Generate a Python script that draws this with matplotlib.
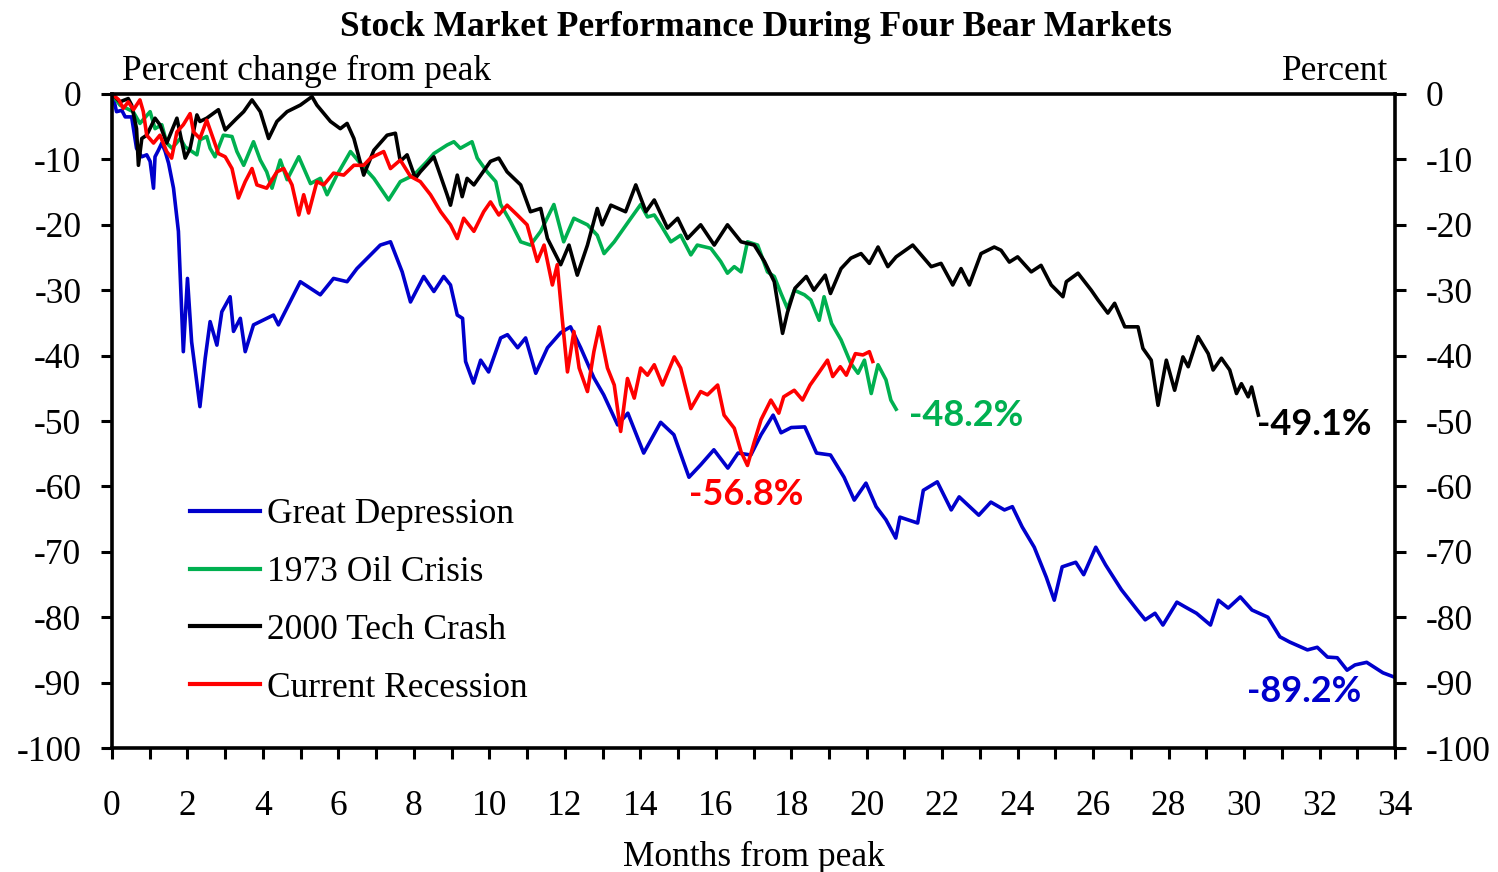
import matplotlib

matplotlib.use("Agg")
import matplotlib.pyplot as plt
from matplotlib.ticker import MultipleLocator

plt.rcParams["axes.unicode_minus"] = False

# Great Depression
gd_months = [0.0, 0.04, 0.12, 0.26, 0.35, 0.52, 0.65, 0.79, 0.92, 1.01, 1.1, 1.14, 1.23, 1.32,
             1.41, 1.5, 1.63, 1.76, 1.89, 2.0, 2.11, 2.33, 2.47, 2.6, 2.78, 2.91, 3.13, 3.22,
             3.4, 3.53, 3.75, 4.28, 4.41, 4.99, 5.52, 5.87, 6.23, 6.49, 7.11, 7.38, 7.69,
             7.91, 8.26, 8.53, 8.79, 8.97, 9.15, 9.29, 9.37, 9.58, 9.77, 9.98, 10.3, 10.48,
             10.75, 10.96, 11.23, 11.54, 11.89, 12.15, 12.42, 12.77, 13.03, 13.4, 13.67,
             14.09, 14.54, 14.89, 15.29, 15.6, 15.95, 16.32, 16.59, 16.93, 17.2, 17.52,
             17.73, 18.0, 18.36, 18.67, 19.04, 19.4, 19.67, 19.98, 20.25, 20.51, 20.77,
             20.88, 21.35, 21.5, 21.87, 22.24, 22.45, 22.97, 23.29, 23.65, 23.86, 24.12,
             24.44, 24.76, 24.97, 25.18, 25.54, 25.75, 26.07, 26.33, 26.75, 27.17, 27.38,
             27.64, 27.85, 28.22, 28.43, 28.74, 29.11, 29.32, 29.58, 29.9, 30.21, 30.63,
             30.95, 31.21, 31.68, 31.94, 32.21, 32.47, 32.73, 32.94, 33.25, 33.68, 34.0]
gd_pct = [0.0, -0.7, -2.7, -2.5, -3.5, -3.5, -8.3, -9.6, -9.3, -10.3, -14.4, -9.6, -8.6, -7.5,
          -8.8, -10.6, -14.4, -21.0, -39.4, -28.2, -37.9, -47.8, -40.4, -34.8, -38.4, -33.3,
          -31.0, -36.3, -34.3, -39.4, -35.3, -33.8, -35.3, -28.7, -30.7, -28.2, -28.7, -26.7,
          -23.1, -22.6, -27.2, -31.8, -27.9, -30.2, -27.9, -29.2, -33.8, -34.3, -40.9, -44.2,
          -40.7, -42.5, -37.3, -36.8, -38.8, -37.3, -42.7, -38.8, -36.5, -35.6, -38.8, -43.4,
          -46.0, -50.6, -48.8, -54.9, -50.2, -52.1, -58.6, -56.7, -54.4, -57.2, -54.9, -55.2,
          -52.1, -49.1, -51.8, -51.0, -50.9, -54.9, -55.2, -58.6, -62.1, -59.5, -63.1, -65.1,
          -67.9, -64.7, -65.6, -60.6, -59.3, -63.6, -61.6, -64.4, -62.4, -63.6, -63.1, -66.2,
          -69.3, -73.9, -77.4, -72.3, -71.6, -73.5, -69.3, -72.0, -75.8, -78.9, -80.4, -79.4,
          -81.2, -77.7, -78.4, -79.4, -81.2, -77.4, -78.6, -76.9, -78.9, -80.0, -83.0, -83.8,
          -85.0, -84.6, -86.1, -86.2, -88.1, -87.3, -86.9, -88.5, -89.2]

# 1973 Oil Crisis
oil_months = [0.0, 0.21, 0.56, 0.74, 1.01, 1.14, 1.32, 1.45, 1.59, 1.81, 1.94, 2.25, 2.33, 2.51,
              2.6, 2.73, 2.95, 3.18, 3.31, 3.49, 3.75, 3.93, 4.1, 4.24, 4.46, 4.64, 4.95, 5.26,
              5.52, 5.7, 5.96, 6.32, 6.58, 6.94, 7.33, 7.64, 8.0, 8.35, 8.53, 8.88, 9.06, 9.23,
              9.54, 9.68, 9.94, 10.17, 10.3, 10.56, 10.83, 11.09, 11.36, 11.71, 11.97, 12.24,
              12.6, 12.86, 13.04, 13.31, 13.75, 14.01, 14.19, 14.37, 14.54, 14.81, 15.07,
              15.34, 15.51, 15.87, 16.13, 16.31, 16.49, 16.67, 16.84, 17.11, 17.37, 17.55,
              17.73, 17.9, 18.08, 18.35, 18.52, 18.74, 18.87, 19.07, 19.32, 19.58, 19.77,
              19.94, 20.12, 20.3, 20.51, 20.64, 20.78]
oil_pct = [0.0, -1.7, -2.7, -4.5, -2.7, -5.3, -4.7, -7.5, -8.3, -6.8, -8.1, -9.3, -7.0, -6.5,
           -8.3, -9.6, -6.3, -6.5, -8.8, -10.9, -7.3, -10.1, -11.9, -14.4, -10.1, -13.1, -9.6,
           -13.7, -12.9, -15.4, -12.4, -8.8, -10.6, -12.9, -16.2, -13.4, -12.4, -10.3, -9.1,
           -7.8, -7.3, -8.3, -7.3, -9.8, -11.9, -13.4, -16.9, -19.5, -22.6, -23.1, -21.0,
           -16.9, -22.6, -19.0, -20.0, -21.6, -24.4, -22.6, -19.0, -16.9, -18.8, -18.5, -20.0,
           -22.6, -21.6, -24.6, -23.1, -23.6, -25.6, -27.4, -26.4, -27.2, -22.6, -23.1, -27.2,
           -27.9, -30.5, -32.8, -30.0, -30.7, -31.5, -34.6, -31.0, -35.1, -37.6, -41.2, -42.7,
           -40.7, -45.8, -41.4, -43.7, -46.8, -48.2]

# 2000 Tech Crash
tech_months = [0.0, 0.21, 0.43, 0.52, 0.65, 0.7, 0.79, 0.92, 1.14, 1.27, 1.45, 1.72, 1.94, 2.07,
               2.25, 2.33, 2.51, 2.82, 3.0, 3.31, 3.49, 3.71, 3.93, 4.15, 4.37, 4.64, 4.99,
               5.3, 5.43, 5.79, 6.05, 6.23, 6.41, 6.67, 6.94, 7.29, 7.51, 7.64, 7.82, 8.04,
               8.17, 8.53, 8.88, 8.97, 9.15, 9.28, 9.41, 9.59, 10.03, 10.25, 10.47, 10.83,
               11.09, 11.36, 11.54, 11.89, 12.11, 12.33, 12.6, 12.86, 12.99, 13.22, 13.61,
               13.88, 14.15, 14.37, 14.72, 14.99, 15.25, 15.6, 15.96, 16.31, 16.67, 17.02,
               17.29, 17.55, 17.77, 17.9, 18.1, 18.4, 18.6, 18.9, 19.04, 19.32, 19.58, 19.85,
               20.07, 20.3, 20.56, 20.78, 21.22, 21.71, 21.97, 22.28, 22.5, 22.72, 23.03,
               23.38, 23.56, 23.78, 24.0, 24.36, 24.62, 24.89, 25.2, 25.29, 25.6, 25.95,
               26.13, 26.39, 26.57, 26.84, 27.19, 27.32, 27.54, 27.72, 27.94, 28.16, 28.38,
               28.52, 28.78, 29.05, 29.18, 29.4, 29.62, 29.8, 29.93, 30.11, 30.2, 30.38]
tech_pct = [0.0, -1.2, -0.7, -1.7, -5.3, -10.9, -6.8, -6.3, -3.7, -4.7, -7.5, -3.7, -9.8, -8.3,
            -3.2, -4.2, -3.7, -2.4, -5.5, -3.7, -2.7, -0.9, -2.7, -6.8, -4.2, -2.7, -1.7, -0.4,
            -1.7, -4.2, -5.3, -4.5, -6.8, -12.4, -8.6, -6.3, -6.0, -10.3, -9.3, -12.9, -11.9,
            -9.6, -15.4, -17.0, -12.4, -15.7, -12.9, -13.9, -10.3, -9.8, -11.9, -13.9, -18.0,
            -17.5, -22.1, -26.1, -23.1, -27.7, -23.1, -17.5, -20.0, -17.0, -18.0, -13.9, -18.0,
            -16.2, -20.5, -19.0, -22.1, -20.0, -23.1, -20.0, -22.6, -23.1, -25.6, -28.7, -36.6,
            -33.4, -29.7, -27.9, -30.0, -27.7, -30.5, -26.7, -25.1, -24.4, -25.9, -23.4, -26.4,
            -24.9, -23.1, -26.4, -25.9, -29.2, -26.7, -29.2, -24.4, -23.4, -23.9, -25.7, -24.9,
            -27.2, -26.2, -29.2, -31.0, -28.7, -27.4, -30.0, -31.5, -33.5, -32.0, -35.6, -35.6,
            -38.9, -40.7, -47.6, -40.7, -45.3, -40.2, -41.7, -37.1, -39.7, -42.2, -40.4, -42.2,
            -45.8, -44.3, -46.3, -44.8, -49.1]

# Current Recession
cur_months = [0.0, 0.18, 0.3, 0.43, 0.57, 0.74, 0.83, 0.92, 1.1, 1.27, 1.45, 1.58, 1.72, 1.89,
              2.07, 2.16, 2.33, 2.51, 2.65, 2.82, 3.0, 3.18, 3.35, 3.53, 3.71, 3.84, 4.1, 4.37,
              4.55, 4.77, 4.95, 5.08, 5.21, 5.43, 5.61, 5.87, 6.14, 6.41, 6.67, 6.85, 7.2,
              7.38, 7.64, 7.91, 8.17, 8.44, 8.71, 8.97, 9.15, 9.32, 9.59, 9.85, 10.03, 10.25,
              10.47, 10.74, 11.0, 11.27, 11.45, 11.67, 11.8, 11.93, 12.07, 12.24, 12.38, 12.6,
              12.77, 12.91, 13.13, 13.31, 13.48, 13.66, 13.84, 14.01, 14.19, 14.37, 14.59,
              14.9, 15.07, 15.34, 15.6, 15.78, 16.05, 16.22, 16.49, 16.67, 16.84, 17.02, 17.2,
              17.46, 17.67, 17.8, 18.08, 18.3, 18.5, 18.72, 18.96, 19.1, 19.3, 19.46, 19.7,
              19.9, 20.07, 20.16]
cur_pct = [0.0, -0.9, -2.2, -1.2, -2.4, -0.9, -2.7, -6.3, -7.5, -6.3, -8.8, -9.8, -5.8, -4.7,
           -3.0, -5.8, -6.8, -4.0, -6.3, -9.1, -9.6, -11.4, -15.9, -13.4, -11.4, -13.9, -14.4,
           -11.9, -11.4, -13.9, -18.5, -15.4, -18.2, -13.4, -13.9, -12.1, -12.4, -10.9, -10.9,
           -9.8, -8.8, -11.4, -10.1, -12.6, -13.4, -15.4, -18.0, -20.0, -22.1, -19.0, -21.0,
           -18.0, -16.5, -18.5, -17.0, -18.5, -20.0, -25.6, -23.1, -29.2, -26.1, -34.3, -42.5,
           -36.3, -41.9, -45.5, -39.4, -35.6, -41.9, -44.5, -51.6, -43.5, -46.5, -41.9, -43.0,
           -41.4, -44.5, -40.2, -41.9, -48.1, -45.5, -46.0, -44.5, -49.1, -51.1, -54.7, -56.8,
           -53.2, -49.8, -46.8, -48.8, -46.3, -45.3, -46.8, -44.5, -42.7, -40.7, -43.2, -41.7,
           -43.0, -39.7, -39.9, -39.4, -40.9]

series = [
    ("Great Depression", gd_months, gd_pct, "#0000CC"),
    ("1973 Oil Crisis", oil_months, oil_pct, "#00B050"),
    ("2000 Tech Crash", tech_months, tech_pct, "#000000"),
    ("Current Recession", cur_months, cur_pct, "#FF0000"),
]

# end-of-series callouts: text, x, y, colour
callouts = [
    ("-48.2%", 22.64, -49.1, "#00B050"),
    ("-49.1%", 31.87, -50.6, "#000000"),
    ("-56.8%", 16.8, -61.2, "#FF0000"),
    ("-89.2%", 31.58, -91.4, "#0000CC"),
]

serif = "Liberation Serif"
fs = 25.5

fig = plt.figure(figsize=(14.98, 8.72), dpi=100)
ax = fig.add_axes([112 / 1498, 1 - 748 / 872, 1283 / 1498, 654 / 872])

for name, xs, ys, color in series:
    ax.plot(xs, ys, color=color, lw=2.6, label=name, solid_joinstyle="round")

ax.set_xlim(0, 34)
ax.set_ylim(-100, 0)
ax.xaxis.set_major_locator(MultipleLocator(2))
ax.xaxis.set_minor_locator(MultipleLocator(1))
ax.yaxis.set_major_locator(MultipleLocator(10))

for side in ax.spines.values():
    side.set_linewidth(2.6)

ax.tick_params(axis="y", which="both", direction="out", length=8, width=2.2,
               left=True, right=True, labelleft=True, labelright=True,
               labelsize=fs, pad=14)
ax.tick_params(axis="x", which="both", direction="out", length=8, width=2.2,
               labelsize=fs, pad=22)
for lbl in ax.get_xticklabels() + ax.get_yticklabels():
    lbl.set_fontfamily(serif)

ax.set_xlabel("Months from peak", fontfamily=serif, fontsize=fs, labelpad=13)

leg = ax.legend(loc="upper left", bbox_to_anchor=(0.0608, 0.382), frameon=False,
                borderaxespad=0, borderpad=0, handlelength=1.98, handletextpad=0.2,
                labelspacing=0.7, prop={"family": serif, "size": fs})
for line in leg.get_lines():
    line.set_linewidth(3.0)

for text, x, y, color in callouts:
    ax.text(x, y, text, color=color, fontsize=26, fontweight="bold", family="Lato",
            ha="center", va="center")

fig.text(755.5 / 1498, 1 - 27 / 872, "Stock Market Performance During Four Bear Markets",
         ha="center", va="center", fontsize=fs, fontweight="bold", family=serif)
fig.text(122 / 1498, 1 - 71 / 872, "Percent change from peak", ha="left", va="center",
         fontsize=fs, family=serif)
fig.text(1388 / 1498, 1 - 71 / 872, "Percent", ha="right", va="center",
         fontsize=fs, family=serif)

fig.savefig("out.png", dpi=100)
